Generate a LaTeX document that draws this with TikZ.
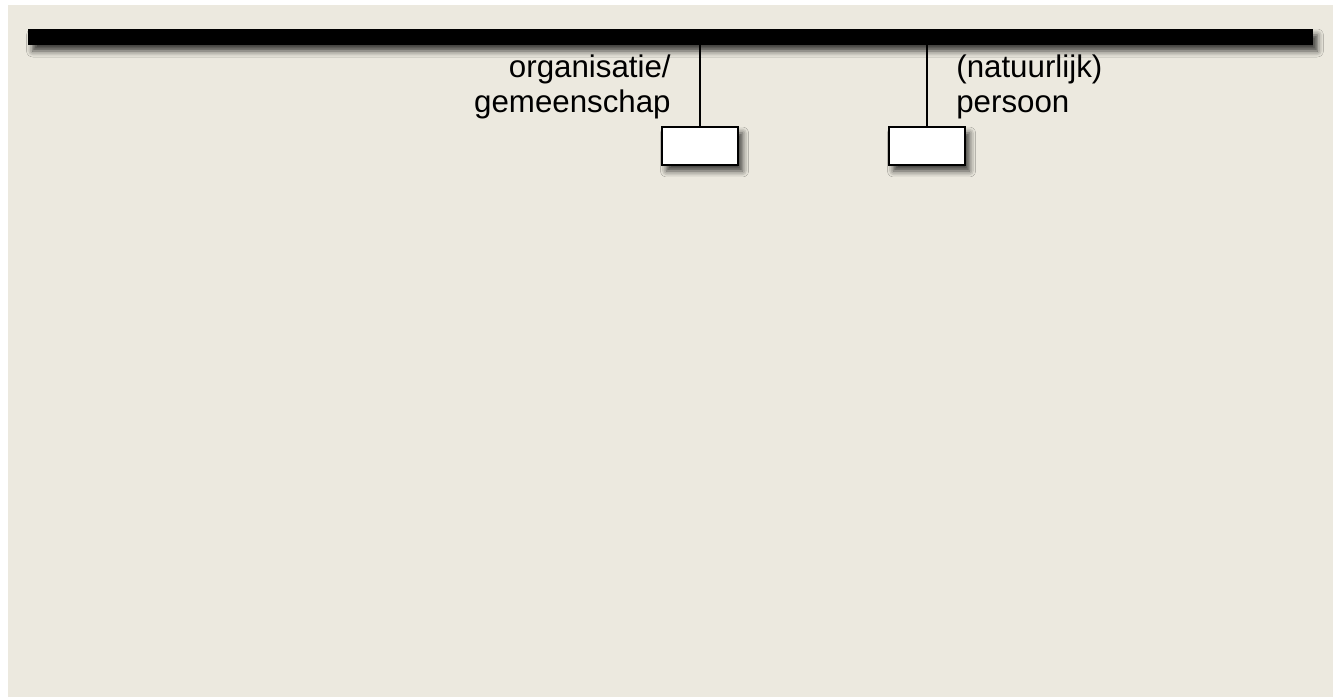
\documentclass[tikz,border=0pt]{standalone}
\usepackage{fontspec}
\setmainfont{Liberation Sans}
\usetikzlibrary{positioning,shadows.blur}
\definecolor{panelbeige}{HTML}{ECE9DF}

\tikzset{
  bar/.style={fill=black,inner sep=0pt,minimum width=25.7cm,minimum height=0.32cm,
    blur shadow={shadow xshift=0.09cm,shadow yshift=-0.12cm,shadow blur radius=0.12cm,shadow opacity=75}},
  classbox/.style={draw=black,line width=1.1pt,fill=white,inner sep=0pt,
    minimum width=1.52cm,minimum height=0.76cm,
    blur shadow={shadow xshift=0.09cm,shadow yshift=-0.12cm,shadow blur radius=0.12cm,shadow opacity=75}},
  lbl/.style={inner sep=0pt,font=\fontsize{17.8}{19.9}\selectfont},
  stem/.style={draw=black,line width=0.8pt}
}

\begin{document}
\begin{tikzpicture}[x=0.02cm,y=-0.02cm]

  % ---- Page and panel ----------------------------------------
  \useasboundingbox (0,0) rectangle (1333,697);
  \fill[white] (0,0) rectangle (1333,697);
  \fill[panelbeige] (8,5) rectangle (1333,697);

  % ---- Horizontal bar ----------------------------------------
  \node[bar] (bar) at (670.5,37) {};

  % ---- Boxes -------------------------------------------------
  \node[classbox] (orgbox)  at (700,146) {};
  \node[classbox] (persbox) at (927,146) {};

  % Stems from bar down to boxes
  \draw[stem] (orgbox.north |- bar.south) -- (orgbox.north);
  \draw[stem] (persbox.north |- bar.south) -- (persbox.north);

  % ---- Labels (base = last line) ----------------------------
  \node[lbl,anchor=base east,align=right] (orglbl) at (671,112)
    {organisatie/\\gemeenschap};
  \node[lbl,anchor=base west,align=left] (perslbl) at (956,112)
    {(natuurlijk)\\persoon};

\end{tikzpicture}
\end{document}
